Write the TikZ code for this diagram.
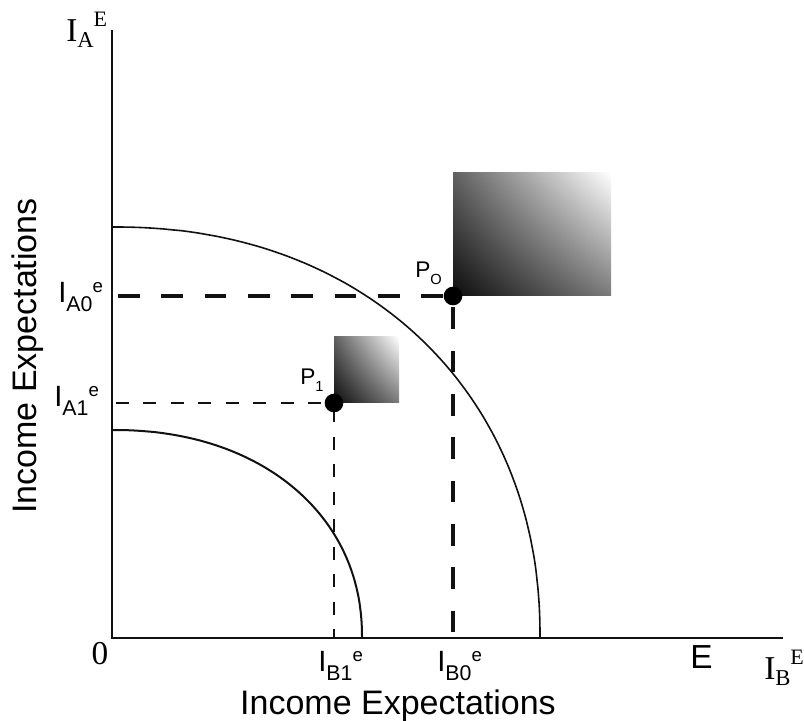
\documentclass[tikz,border=0pt]{standalone}
\usepackage{fontspec}
\setmainfont{Liberation Serif}
\setsansfont{Liberation Sans}
\usetikzlibrary{positioning,calc,shadings}
\definecolor{Ink}{HTML}{111111}
\newcommand{\sanslab}[3]{I\raisebox{-0.3em}{\fontsize{16}{16}\selectfont #2}\raisebox{0.37em}{\fontsize{14}{14}\selectfont #3}}
\newcommand{\seriflab}[2]{I\raisebox{-0.18em}{\fontsize{17}{17}\selectfont #1}\raisebox{0.47em}{\fontsize{16.5}{16.5}\selectfont E}}
\tikzset{
  axis/.style={line width=2.1pt, draw=Ink},
  curve/.style={line width=1.2pt, draw=Ink},
  bigdash/.style={line width=2.6pt, draw=Ink, dash pattern=on 16.25pt off 16.25pt},
  smalldash/.style={line width=1.1pt, draw=Ink, dash pattern=on 9.75pt off 10.9pt},
  dot/.style={circle, fill=black, inner sep=0pt, minimum size=14pt},
  lbl/.style={font=\sffamily\fontsize{22}{22}\selectfont, inner sep=0pt, anchor=base west},
  plbl/.style={font=\sffamily\fontsize{17}{17}\selectfont, inner sep=0pt, anchor=base west},
  slbl/.style={font=\fontsize{25}{25}\selectfont, inner sep=0pt, anchor=base west},
  title/.style={font=\sffamily\fontsize{25.5}{25.5}\selectfont, inner sep=0pt, anchor=base},
  grad/.style={lower left=black!95, upper right=white, upper left=black!62, lower right=black!52}
}
\begin{document}
\begin{tikzpicture}[x=0.75pt,y=0.75pt]
\useasboundingbox (-112,-83) rectangle (692,638);
\coordinate (O) at (0,0);
\coordinate (ytop) at (0,608);
\coordinate (xend) at (671,0);
\coordinate (A0) at (0,342);
\coordinate (P0) at (341,342);
\coordinate (B0) at (341,0);
\coordinate (A1) at (0,235);
\coordinate (P1) at (222,235);
\coordinate (B1) at (222,0);
\shade[grad] (P0) rectangle (499,465);
\shade[grad] (P1) rectangle (287,301);
\draw[curve] (428,0) -- plot[domain=0.2:89.8,samples=80,smooth,variable=\t] ({428*cos(\t)^0.93},{411*sin(\t)^0.93}) -- (0,411);
\draw[curve,line width=1.5pt] (250,0) -- plot[domain=0.2:89.8,samples=80,smooth,variable=\t] ({250*cos(\t)^0.93},{208*sin(\t)^0.93}) -- (0,208);
\draw[bigdash,dash phase=28pt] (A0) -- (P0);
\draw[bigdash,dash phase=24pt] (P0) -- (B0);
\draw[smalldash,dash phase=18pt] (A1) -- (P1);
\draw[smalldash,dash phase=16pt] (P1) -- (B1);
\draw[axis] (ytop) -- (O) -- (xend);
\node[dot] (dotP0) at (P0) {};
\node[dot] (dotP1) at (P1) {};
\node[plbl] (labP0) at (303,360) {P\raisebox{-0.3em}{\fontsize{11}{11}\selectfont O}};
\node[plbl] (labP1) at (188,253) {P\raisebox{-0.3em}{\fontsize{11}{11}\selectfont 1}};
\node[lbl] (labA0) at (-54,335) {\sanslab{I}{A0}{e}};
\node[lbl] (labA1) at (-58,231) {\sanslab{I}{A1}{e}};
\node[lbl] (labB1) at (206,-34) {\sanslab{I}{B1}{e}};
\node[lbl] (labB0) at (325,-34) {\sanslab{I}{B0}{e}};
\node[lbl,font=\sffamily\fontsize{25}{25}\selectfont] (labE) at (578,-31) {E};
\node[slbl,anchor=base] (labzero) at (-12,-27) {0};
\node[slbl] (labIA) at (-46,596) {\seriflab{A}{E}};
\node[slbl] (labIB) at (652,-42) {\seriflab{B}{E}};
\node[title] (xtitle) at (286,-77) {Income Expectations};
\node[title,rotate=90] (ytitle) at (-75,282) {Income Expectations};
\end{tikzpicture}
\end{document}
